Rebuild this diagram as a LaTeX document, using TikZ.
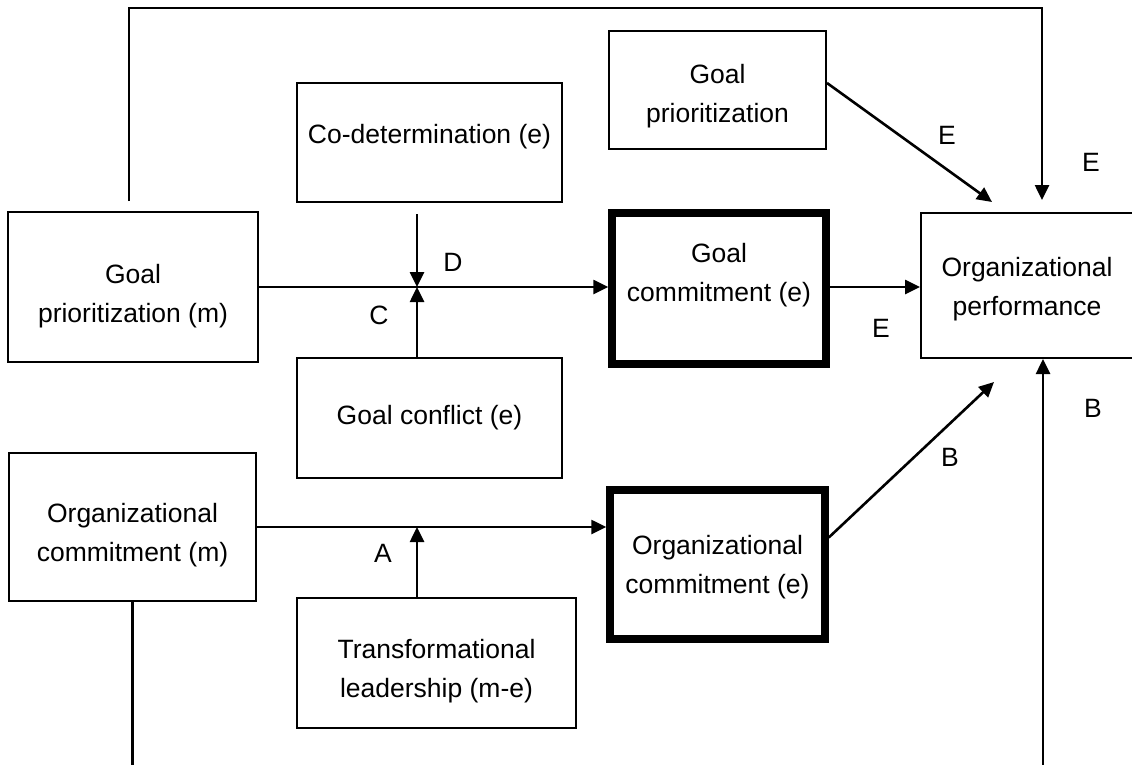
\documentclass[tikz,border=0pt]{standalone}
\usepackage{fontspec}
\setmainfont{Liberation Sans}
\usetikzlibrary{arrows.meta}
\begin{document}
\begin{tikzpicture}[x=1pt,y=-1pt,
  box/.style={draw, line width=2pt, inner sep=0pt},
  thickbox/.style={draw, line width=7.5pt, inner sep=0pt},
  txt/.style={font=\fontsize{26.5}{39}\selectfont, align=center, inner sep=0pt},
  lbl/.style={font=\fontsize{26.5}{30}\selectfont, inner sep=0pt},
  conn/.style={line width=2.6pt},
  arr/.style={conn, -{Triangle[length=15pt,width=14pt]}}]
\useasboundingbox (0,0) rectangle (1132,764);
\clip (0,0) rectangle (1132,764);
% boxes
\node[box, minimum width=250pt, minimum height=150pt] (gpm) at (133,287) {};
\node[txt] (gpmT) at (133,296) {Goal\\prioritization (m)};
\node[box, minimum width=265pt, minimum height=119pt] (codet) at (429.5,142.5) {};
\node[txt] (codetT) at (429.5,137) {Co-determination (e)};
\node[box, minimum width=265pt, minimum height=120pt] (gcon) at (429.5,418) {};
\node[txt] (gconT) at (429.5,418) {Goal conflict (e)};
\node[box, minimum width=217pt, minimum height=118pt] (gp) at (717.5,90) {};
\node[txt] (gpT) at (717.5,96) {Goal\\prioritization};
\node[thickbox, minimum width=214pt, minimum height=151pt] (gc) at (719,288.5) {};
\node[txt] (gcT) at (719,275) {Goal\\commitment (e)};
\node[box, minimum width=222pt, minimum height=145pt] (op) at (1032,285.5) {};
\node[txt] (opT) at (1027,289) {Organizational\\performance};
\node[box, minimum width=247pt, minimum height=148pt] (ocm) at (132.5,527) {};
\node[txt] (ocmT) at (132.5,535) {Organizational\\commitment (m)};
\node[box, minimum width=279pt, minimum height=130pt] (tl) at (436.5,663) {};
\node[txt] (tlT) at (436.5,671) {Transformational\\leadership (m-e)};
\node[thickbox, minimum width=215pt, minimum height=149pt] (oce) at (717.5,564.5) {};
\node[txt] (oceT) at (717.5,567) {Organizational\\commitment (e)};
% coordinates
\coordinate (cross) at (417,287);
\coordinate (cross2) at (417,527);
\coordinate (loopS) at (129,201);
\coordinate (opTop) at (1042,200);
\coordinate (opE1) at (992,202);
\coordinate (opB) at (994,382);
\coordinate (bot) at (1043,770);
% connectors
\draw[arr] (gpm.east) -- (gpm.east -| gc.west);
\draw[arr] ([yshift=-11pt]codet.south -| cross) -- (cross);
\draw[arr] (gcon.north -| cross) -- (cross);
\draw[arr] (gc.east |- cross) -- (cross -| op.west);
\draw[arr] ([yshift=7pt]gp.east) -- (opE1);
\draw[arr] (loopS) -- ++(0,-193) -| (opTop);
\draw[arr] ([yshift=27pt]oce.east) -- (opB);
\draw[conn] (ocm.south) -- ++(0,170);
\draw[arr] (bot) -- (bot |- op.south);
\draw[arr] (ocm.east) -- (ocm.east -| oce.west);
\draw[arr] (tl.north -| cross2) -- (cross2);
% labels
\node[lbl] (lD) at (453,262) {D};
\node[lbl] (lC) at (379,315) {C};
\node[lbl] (lE1) at (947,135) {E};
\node[lbl] (lE2) at (1091,162) {E};
\node[lbl] (lE3) at (881,328) {E};
\node[lbl] (lA) at (383,553) {A};
\node[lbl] (lB1) at (950,457) {B};
\node[lbl] (lB2) at (1093,408) {B};
\end{tikzpicture}
\end{document}
